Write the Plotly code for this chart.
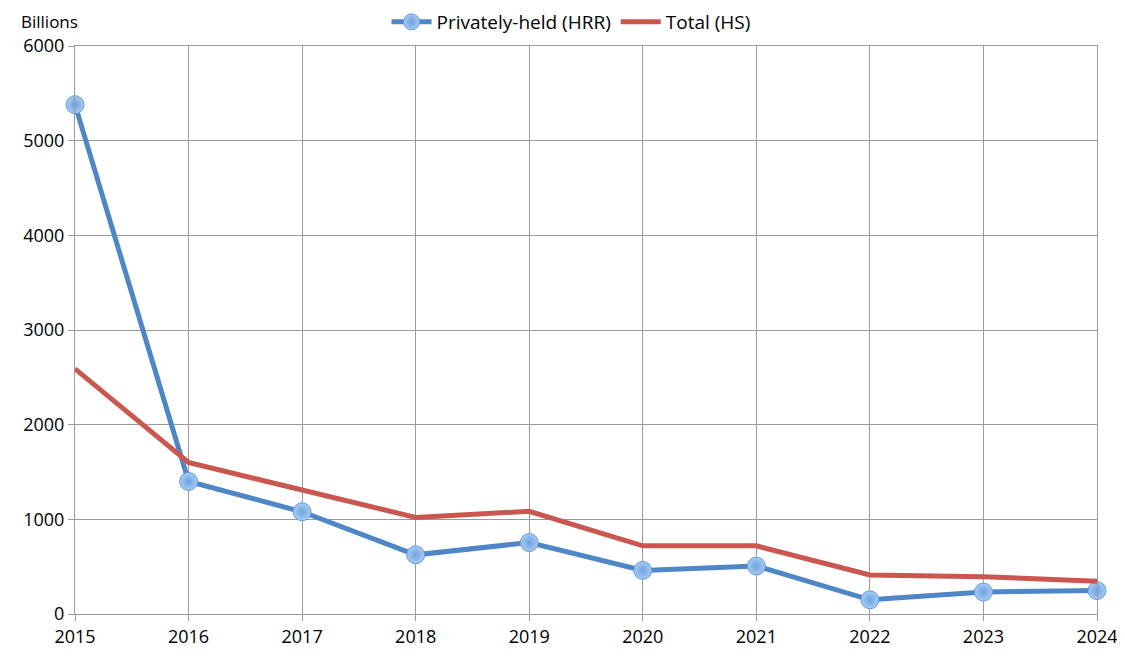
import plotly.graph_objects as go

years = [2015, 2016, 2017, 2018, 2019, 2020, 2021, 2022, 2023, 2024]
privately_held = [5380, 1400, 1080, 625, 755, 460, 507, 150, 232, 248]
total = [2590, 1600, 1310, 1020, 1085, 720, 720, 412, 394, 345]

FONT = "Open Sans"

fig = go.Figure()
fig.add_trace(go.Scatter(
    x=years, y=privately_held, name="Privately-held (HRR)", mode="lines+markers",
    line=dict(color="#4f86c6", width=5),
    marker=dict(size=18, color="#a6cbf3", symbol="circle",
                gradient=dict(type="radial", color="#6fa2e0"),
                line=dict(color="#6a9bd8", width=1)),
))
fig.add_trace(go.Scatter(
    x=years, y=total, name="Total (HS)", mode="lines",
    line=dict(color="#c9574f", width=5),
))

W, H = 1117, 642
fig.update_layout(
    width=W, height=H,
    margin=dict(l=67, r=28, t=38, b=36, autoexpand=False),
    paper_bgcolor="white", plot_bgcolor="white",
    font=dict(family=FONT, size=18, color="black"),
    showlegend=True,
    legend=dict(orientation="h", x=(571 - 8) / W, xanchor="center", xref="container",
                y=1 - 14 / H, yanchor="middle", yref="container",
                font=dict(size=19), traceorder="normal", itemwidth=40),
    xaxis=dict(range=[2015, 2024], tickvals=years, ticktext=[str(y) for y in years],
               showgrid=True, gridcolor="#9a9a9a", gridwidth=1,
               showline=True, linecolor="#9a9a9a", mirror=True,
               ticks="outside", ticklen=6, tickcolor="#9a9a9a",
               zeroline=False, fixedrange=True),
    yaxis=dict(range=[0, 6000], tickvals=[0, 1000, 2000, 3000, 4000, 5000, 6000],
               showgrid=True, gridcolor="#9a9a9a", gridwidth=1,
               showline=True, linecolor="#9a9a9a", mirror=True,
               ticks="outside", ticklen=6, tickcolor="#9a9a9a",
               zeroline=False, fixedrange=True),
    annotations=[dict(text="Billions", xref="paper", yref="paper", x=-0.055, y=1 + 38 / 568,
                      xanchor="left", yanchor="top", showarrow=False,
                      font=dict(family=FONT, size=17))],
)
fig.update_traces(cliponaxis=False)

fig.write_html("out.html")
